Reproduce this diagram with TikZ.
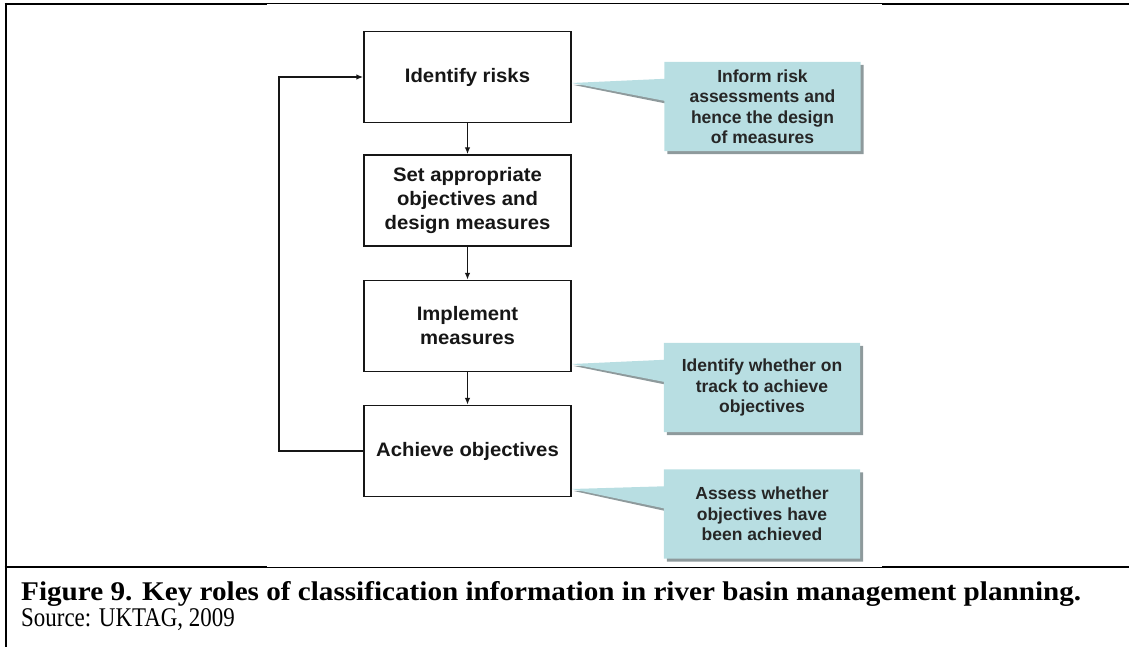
\documentclass[tikz,border=0pt]{standalone}
\usepackage{fontspec}
\setmainfont{Liberation Serif}
\newfontfamily\boxfont[FakeStretch=1.04]{Liberation Sans}
\newfontfamily\notefont{Liberation Sans}
\newfontfamily\capfont[FakeStretch=1.08]{Liberation Serif}
\newfontfamily\srcfont[FakeStretch=0.85]{Liberation Serif}
\usetikzlibrary{arrows.meta,calc}

\definecolor{callfill}{HTML}{B8DEE2}
\definecolor{callshade}{HTML}{8E9A9C}
\definecolor{ink}{HTML}{161616}
\definecolor{noteink}{HTML}{262626}

\begin{document}
\begin{tikzpicture}[x=1pt,y=-1pt,
  stepbox/.style={draw=ink, line width=1.4pt, fill=white,
    minimum width=207pt, minimum height=91pt, inner sep=0pt,
    align=center, text=ink,
    font=\boxfont\bfseries\fontsize{19.5}{24}\selectfont},
  notebox/.style={minimum width=196pt, minimum height=89pt, inner sep=0pt,
    align=center, text=noteink,
    font=\notefont\bfseries\fontsize{17.5}{20.5}\selectfont},
  flow/.style={draw=ink, line width=1.5pt, -{Latex[length=7pt,width=5.5pt]}},
  loopline/.style={draw=ink, line width=2.2pt, -{Latex[length=7pt,width=5.5pt]}},
  thickrule/.style={line width=2.6pt, black},
  thinrule/.style={line width=1pt, black}
]
\useasboundingbox (0,0) rectangle (1129,647);

% frame rules
\draw[thickrule] (6,3) -- (6,647);
\draw[thickrule] (4.7,4) -- (267,4);
\draw[thinrule]  (267,4) -- (882,4);
\draw[thickrule] (882,4) -- (1129,4);
\draw[thickrule] (4.7,567) -- (267,567);
\draw[thinrule]  (267,567) -- (882,567);
\draw[thickrule] (882,567) -- (1129,567);

% process steps
\node[stepbox] (risks)   at (467.5,77)  {Identify risks};
\node[stepbox] (design)  at (467.5,200.5) {Set appropriate\\objectives and\\design measures};
\node[stepbox] (impl)    at (467.5,326) {Implement\\measures};
\node[stepbox] (achieve) at (467.5,451) {Achieve objectives};

\draw[flow] (risks.south) -- (design.north);
\draw[flow] (design.south) -- (impl.north);
\draw[flow] (impl.south) -- (achieve.north);

\coordinate (fbcorner) at (279,451);
\draw[loopline] (achieve.west) -- (fbcorner) |- (risks.west);

% callout frames (text is set again on top once the bodies are filled)
\node[notebox] (n1) at (762.5,106.5) {};
\node[notebox] (n2) at (762,387.5) {};
\node[notebox] (n3) at (762,514) {};

\coordinate (t1) at ($(risks.east)+(0,6)$);
\coordinate (t2) at ($(impl.east)+(0,38)$);
\coordinate (t3) at ($(achieve.east)+(0,38)$);

% callout bodies with pointers and a soft drop shadow
\foreach \n/\t in {n1/t1,n2/t2,n3/t3}{
  \fill[callshade]
    ($(\n.north west)+(3,3)$) -- ($(\n.north east)+(3,3)$) -- ($(\n.south east)+(3,3)$)
    -- ($(\n.south west)+(3,3)$) -- ($(\n.north west)+(3,42)$) -- ($(\t)+(2,2)$)
    -- ($(\n.north west)+(3,20)$) -- cycle;
  \fill[callfill]
    (\n.north west) -- (\n.north east) -- (\n.south east) -- (\n.south west)
    -- ($(\n.north west)+(0,39)$) -- (\t) -- ($(\n.north west)+(0,17)$) -- cycle;
}
\node[notebox] at (n1) {Inform risk\\assessments and\\hence the design\\of measures};
\node[notebox] at (n2) {Identify whether on\\track to achieve\\objectives};
\node[notebox] at (n3) {Assess whether\\objectives have\\been achieved};

% caption
\node[anchor=base west, inner sep=0pt, font=\capfont\bfseries\fontsize{27}{27}\selectfont] (cap) at (21,600)
  {Figure 9. Key roles of classification information in river basin management planning.};
\node[anchor=base west, inner sep=0pt, font=\srcfont\fontsize{27}{27}\selectfont] (src) at (21,626)
  {Source: UKTAG, 2009};
\end{tikzpicture}
\end{document}
